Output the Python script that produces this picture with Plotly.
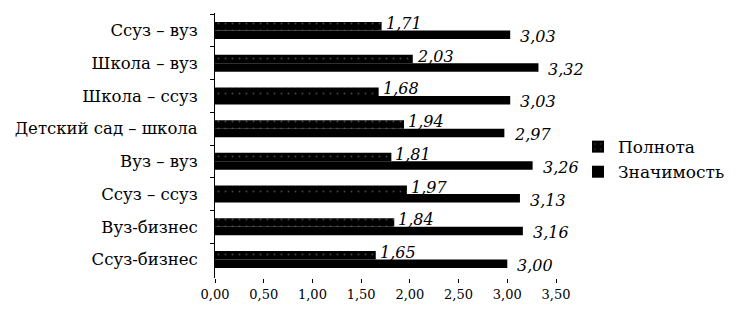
import plotly.graph_objects as go

categories = ["Ссуз – вуз", "Школа – вуз", "Школа – ссуз", "Детский сад – школа",
              "Вуз – вуз", "Ссуз – ссуз", "Вуз-бизнес", "Ссуз-бизнес"]
polnota = [1.71, 2.03, 1.68, 1.94, 1.81, 1.97, 1.84, 1.65]
znachimost = [3.03, 3.32, 3.03, 2.97, 3.26, 3.13, 3.16, 3.00]
tick_vals = [0, 0.5, 1.0, 1.5, 2.0, 2.5, 3.0, 3.5]

FONT = "DejaVu Serif"

def fmt(v):
    return f"{v:.2f}".replace(".", ",")

fig = go.Figure()
fig.add_trace(go.Bar(
    y=categories, x=polnota, orientation="h", name="Полнота",
    marker=dict(color="#000000", line=dict(width=0),
                pattern=dict(shape=".", fgcolor="#8a8a8a", bgcolor="#000000", size=7, solidity=0.06)),
))
fig.add_trace(go.Bar(
    y=categories, x=znachimost, orientation="h", name="Значимость",
    marker=dict(color="#000000", line=dict(width=0)),
))

annotations = []
for c, p, z in zip(categories, polnota, znachimost):
    annotations.append(dict(x=p, y=c, xref="x", yref="y", text=fmt(p), showarrow=False,
                            xanchor="left", yanchor="middle", xshift=2, yshift=7,
                            font=dict(family=FONT, size=16, color="#000", style="italic")))
    annotations.append(dict(x=z, y=c, xref="x", yref="y", text=fmt(z), showarrow=False,
                            xanchor="left", yanchor="middle", xshift=8, yshift=-6,
                            font=dict(family=FONT, size=16, color="#000", style="italic")))

fig.update_layout(
    width=738, height=316,
    margin=dict(l=215, r=182, t=13, b=38, autoexpand=False),
    paper_bgcolor="white", plot_bgcolor="white",
    barmode="group", bargap=0.48, bargroupgap=0,
    separators=", ",
    font=dict(family=FONT, color="#000"),
    showlegend=True,
    legend=dict(x=1.0645, y=0.562, xanchor="left", yanchor="top",
                font=dict(family=FONT, size=17, color="#000"),
                itemwidth=30, tracegroupgap=0, traceorder="normal",
                bgcolor="rgba(0,0,0,0)"),
    annotations=annotations,
)
fig.update_xaxes(range=[0, 3.5], tickvals=tick_vals, tickformat=".2f", automargin=False,
                 showgrid=False, zeroline=False, showline=False,
                 ticks="outside", ticklen=4, tickcolor="#000",
                 tickfont=dict(family=FONT, size=13, color="#000"))
fig.update_yaxes(autorange="reversed", showgrid=False, showline=True, linecolor="#000",
                 linewidth=1, ticks="outside", ticklen=4, tickcolor="#000", automargin=False,
                 tickson="boundaries", ticklabelstandoff=13,
                 tickfont=dict(family=FONT, size=16.5, color="#000"))

fig.write_html("out.html", config={"displayModeBar": False},
               post_script="document.body.style.margin='0';")
